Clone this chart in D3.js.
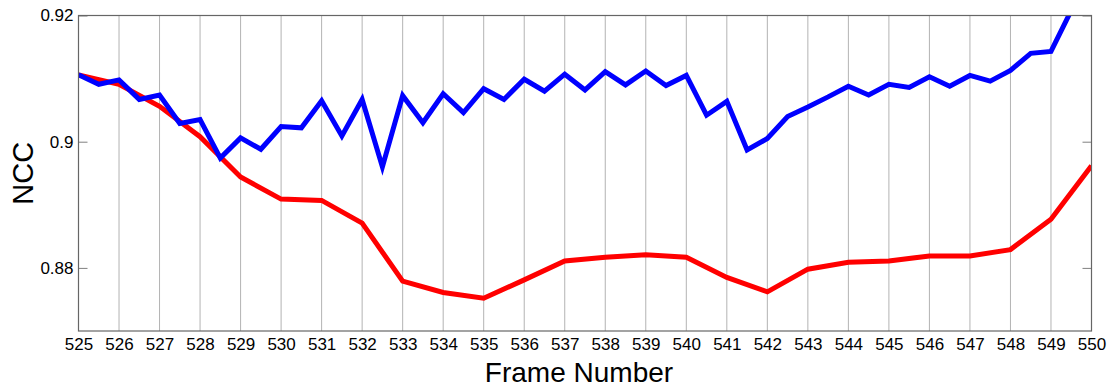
<!DOCTYPE html>
<html>
<head>
<meta charset="utf-8">
<script src="https://cdn.jsdelivr.net/npm/d3@7"></script>
<style>
  html, body { margin: 0; padding: 0; background: #fff; }
  svg { display: block; font-family: "Liberation Sans", Arial, Helvetica, sans-serif; }
</style>
</head>
<body>
<svg id="chart" width="1108" height="389"></svg>
<script>
// Frame numbers sampled by each curve
const redFrames = d3.range(525, 551, 1);
const blueFrames = d3.range(525, 550, 0.5);

// NCC per frame (red: whole frames)
const redNcc = [
  0.9106, 0.9091, 0.9056, 0.9008, 0.8944, 0.8909, 0.8907, 0.8871, 0.8779,
  0.8761, 0.8752, 0.8781, 0.8811, 0.8817, 0.8821, 0.8817, 0.8785, 0.8762,
  0.8798, 0.8809, 0.8811, 0.8819, 0.8819, 0.8829, 0.8877, 0.8962
];

// NCC per half frame (blue)
const blueNcc = [
  0.9106, 0.9091, 0.9098, 0.9067, 0.9074, 0.9029, 0.9035, 0.8974, 0.9006, 0.8988,
  0.9024, 0.9022, 0.9065, 0.9009, 0.9067, 0.8960, 0.9073, 0.9030, 0.9076, 0.9046,
  0.9084, 0.9067, 0.9099, 0.9080, 0.9107, 0.9082, 0.9111, 0.9090, 0.9112, 0.9089,
  0.9105, 0.9042, 0.9064, 0.8987, 0.9005, 0.9040, 0.9055, 0.9071, 0.9088, 0.9074,
  0.9091, 0.9086, 0.9103, 0.9088, 0.9105, 0.9096, 0.9113, 0.9140, 0.9143, 0.9208
];

const xTicks = d3.range(525, 551, 1);
const yTicks = [0.88, 0.90, 0.92];
const xDomain = [525, 550];
const yDomain = [0.87, 0.92];

const svg = d3.select("#chart");
const plotLeft = 78.5, plotRight = 1091.5, plotTop = 15.5, plotBottom = 331;

const x = d3.scaleLinear().domain(xDomain).range([plotLeft, plotRight]);
const y = d3.scaleLinear().domain(yDomain).range([plotBottom, plotTop]);

// vertical grid
svg.append("g")
  .selectAll("line")
  .data(xTicks)
  .join("line")
  .attr("x1", d => x(d)).attr("x2", d => x(d))
  .attr("y1", plotTop).attr("y2", plotBottom)
  .attr("stroke", "#b3b3b3")
  .attr("stroke-width", 1);

// bottom axis labels
const xAxis = svg.append("g")
  .attr("transform", `translate(0,${plotBottom})`)
  .call(d3.axisBottom(x).tickValues(xTicks).tickSize(0).tickPadding(7).tickFormat(d3.format("d")));
xAxis.select(".domain").remove();
xAxis.selectAll("text").attr("font-size", 17).attr("fill", "#000")
  .attr("font-family", "'Liberation Sans', Arial, sans-serif");

// left axis
const yAxis = svg.append("g")
  .attr("transform", `translate(${plotLeft},0)`)
  .call(d3.axisLeft(y).tickValues(yTicks).tickSizeInner(-9).tickSizeOuter(0).tickPadding(5)
    .tickFormat(d => String(+d.toFixed(2))));
yAxis.select(".domain").remove();
yAxis.selectAll("line").attr("stroke", "#808080");
yAxis.selectAll("text").attr("font-size", 17).attr("fill", "#000")
  .attr("font-family", "'Liberation Sans', Arial, sans-serif");

// right axis ticks
const yAxisR = svg.append("g")
  .attr("transform", `translate(${plotRight},0)`)
  .call(d3.axisRight(y).tickValues(yTicks).tickSizeInner(-9).tickSizeOuter(0).tickFormat(""));
yAxisR.select(".domain").remove();
yAxisR.selectAll("line").attr("stroke", "#808080");

// plot clip
svg.append("clipPath").attr("id", "plotClip")
  .append("rect")
  .attr("x", plotLeft).attr("y", plotTop)
  .attr("width", plotRight - plotLeft).attr("height", plotBottom - plotTop);

const lineGen = d3.line()
  .x(d => x(d[0]))
  .y(d => y(d[1]));

const plot = svg.append("g").attr("clip-path", "url(#plotClip)");

plot.append("path")
  .datum(redFrames.map((f, i) => [f, redNcc[i]]))
  .attr("d", lineGen)
  .attr("fill", "none")
  .attr("stroke", "#ff0000")
  .attr("stroke-width", 5)
  .attr("stroke-linejoin", "miter");

plot.append("path")
  .datum(blueFrames.map((f, i) => [f, blueNcc[i]]))
  .attr("d", lineGen)
  .attr("fill", "none")
  .attr("stroke", "#0000ff")
  .attr("stroke-width", 5)
  .attr("stroke-linejoin", "miter");

// axes box
svg.append("rect")
  .attr("x", plotLeft).attr("y", plotTop)
  .attr("width", plotRight - plotLeft).attr("height", plotBottom - plotTop)
  .attr("fill", "none")
  .attr("stroke", "#666")
  .attr("stroke-width", 1.2);

// axis titles
svg.append("text")
  .attr("x", 579).attr("y", 382)
  .attr("text-anchor", "middle")
  .attr("font-size", 28)
  .attr("fill", "#000")
  .text("Frame Number");

svg.append("text")
  .attr("transform", `translate(33,${(plotTop + plotBottom) / 2}) rotate(-90)`)
  .attr("text-anchor", "middle")
  .attr("font-size", 29)
  .attr("fill", "#000")
  .text("NCC");
</script>
</body>
</html>
